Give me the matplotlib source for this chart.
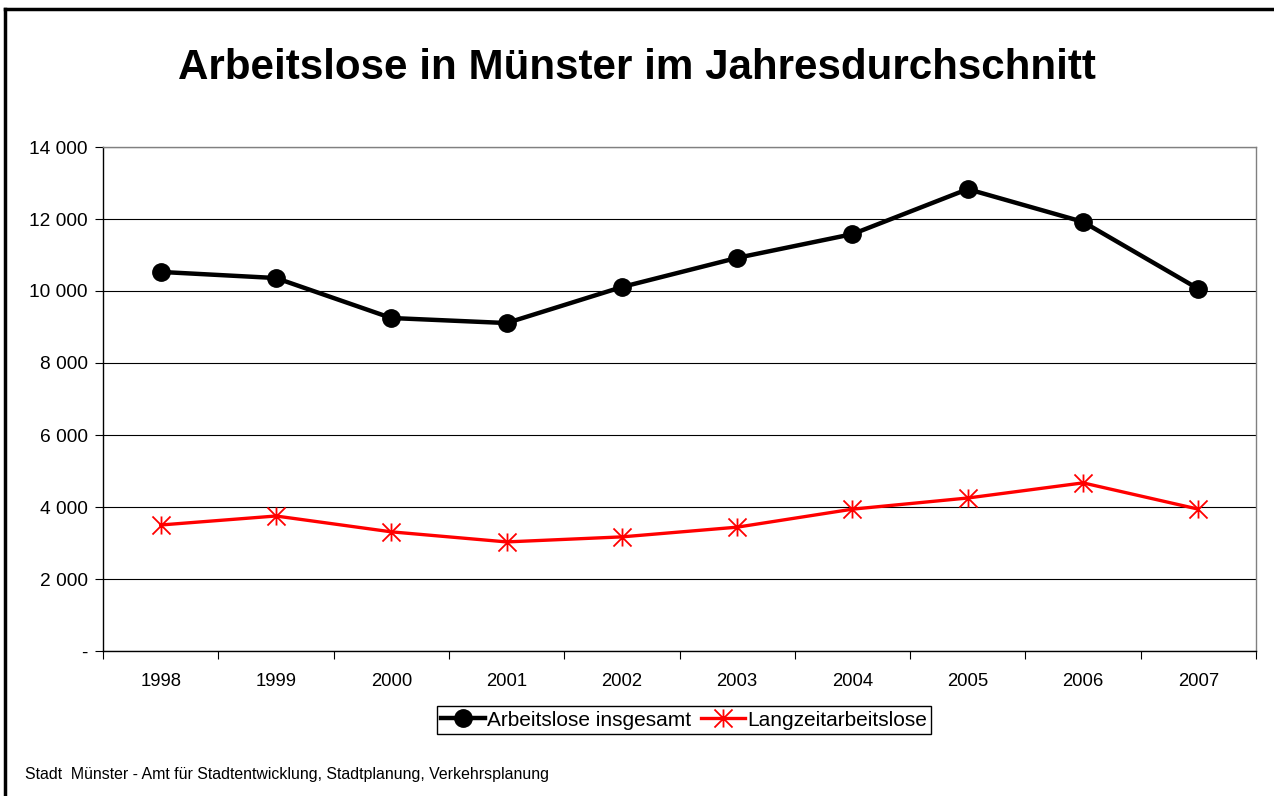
import matplotlib
matplotlib.use("Agg")
import matplotlib.pyplot as plt
from matplotlib.lines import Line2D
from matplotlib.path import Path
from matplotlib.ticker import FuncFormatter

plt.rcParams["font.family"] = ["Liberation Sans", "DejaVu Sans"]

years = ["1998", "1999", "2000", "2001", "2002", "2003", "2004", "2005", "2006", "2007"]
total = [10530, 10360, 9250, 9110, 10110, 10920, 11580, 12830, 11920, 10060]
longterm = [3500, 3750, 3310, 3030, 3170, 3440, 3940, 4250, 4670, 3940]
y_ticks = [0, 2000, 4000, 6000, 8000, 10000, 12000, 14000]

TITLE = "Arbeitslose in Münster im Jahresdurchschnitt"
FOOTER = "Stadt  Münster - Amt für Stadtentwicklung, Stadtplanung, Verkehrsplanung"

# Excel-style star marker: an "x" with a vertical bar through it
STAR = Path(
    [(-1, -1), (1, 1), (-1, 1), (1, -1), (0, -1), (0, 1)],
    [Path.MOVETO, Path.LINETO, Path.MOVETO, Path.LINETO, Path.MOVETO, Path.LINETO],
)


def fmt_thousands(v, pos):
    if v == 0:
        return "-"
    return f"{int(v):,}".replace(",", " ")


def main() -> None:
    fig = plt.figure(figsize=(12.74, 7.96), dpi=100)
    ax = fig.add_axes([103 / 1274, 1 - 651 / 796, (1256 - 103) / 1274, (651 - 147) / 796])

    x = list(range(len(years)))
    ax.plot(x, total, color="black", lw=3.2, marker="o", ms=12.5,
            label="Arbeitslose insgesamt", zorder=4)
    ax.plot(x, longterm, color="#ff0000", lw=2.4, marker=STAR, ms=13,
            mew=1.3, label="Langzeitarbeitslose", zorder=4)

    ax.set_xlim(-0.5, len(years) - 0.5)
    ax.set_ylim(0, 14000)
    ax.set_yticks(y_ticks)
    ax.yaxis.set_major_formatter(FuncFormatter(fmt_thousands))
    ax.yaxis.grid(True, color="black", lw=0.8)
    ax.set_axisbelow(True)

    # category labels centred, tick marks between categories
    ax.set_xticks(x)
    ax.set_xticklabels(years)
    ax.tick_params(axis="x", which="major", length=0, pad=16, labelsize=13.3)
    ax.set_xticks([i - 0.5 for i in range(len(years) + 1)], minor=True)
    ax.tick_params(axis="x", which="minor", length=6, width=0.8, direction="out")
    ax.tick_params(axis="y", length=6, width=0.8, direction="out", pad=5, labelsize=13.8)

    for side in ["left", "bottom"]:
        ax.spines[side].set_color("black")
        ax.spines[side].set_linewidth(1.0)
    for side in ["top", "right"]:
        ax.spines[side].set_color("#808080")
        ax.spines[side].set_linewidth(1.0)

    handles = [
        Line2D([], [], color="black", lw=3.2, marker="o", ms=12.5),
        Line2D([], [], color="#ff0000", lw=2.4, marker=STAR, ms=13, mew=1.3),
    ]
    fig.legend(handles, ["Arbeitslose insgesamt", "Langzeitarbeitslose"],
               loc="center", bbox_to_anchor=(684 / 1274, 1 - 720 / 796), ncol=2,
               fontsize=15, frameon=True, fancybox=False, edgecolor="black",
               handlelength=2.1, handletextpad=0.1, columnspacing=0.5,
               borderpad=0.2, framealpha=1)

    fig.text(0.5, 1 - 68 / 796, TITLE, ha="center", va="center",
             fontsize=30.3, fontweight="bold")
    fig.text(25 / 1274, 1 - 774 / 796, FOOTER, ha="left", va="center", fontsize=11.4)

    # outer border (left and top only)
    fig.add_artist(Line2D([5 / 1274, 5 / 1274], [0, 1 - 9 / 796],
                          transform=fig.transFigure, color="black", lw=2.5))
    fig.add_artist(Line2D([5 / 1274, 1], [1 - 9 / 796, 1 - 9 / 796],
                          transform=fig.transFigure, color="black", lw=2.5))

    fig.savefig("out.png", dpi=100, facecolor="white")
    plt.close(fig)


if __name__ == "__main__":
    main()
